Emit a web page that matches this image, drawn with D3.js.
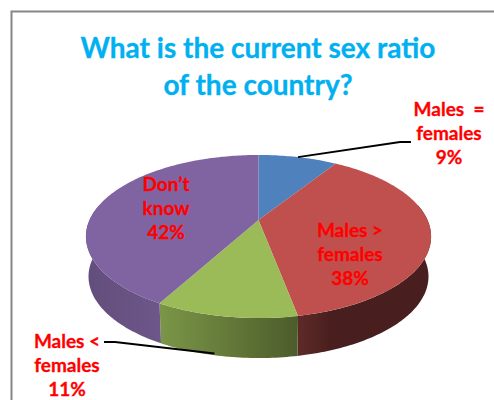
<!DOCTYPE html>
<html>
<head>
<meta charset="utf-8">
<title>Sex ratio survey</title>
<script src="https://cdn.jsdelivr.net/npm/d3@7/dist/d3.min.js"></script>
<style>
  html, body { margin: 0; padding: 0; background: #fff; }
  svg { display: block; }
  text { font-family: Lato, "Open Sans", sans-serif; font-weight: 700; white-space: pre; }
</style>
</head>
<body>
<svg id="chart" width="494" height="400"></svg>
<script>
// Survey answers, clockwise from twelve o'clock.
const categories = ["Males = females", "Males > females", "Males < females", "Don\u2019t know"];
const shares = [9, 38, 11, 42];
const topColors = ["#4f81bd", "#c0504d", "#9bbb59", "#8064a2"];
const wallLight = ["#3f6797", "#5e2a28", "#7b9647", "#6d5689"];
const wallDark = ["#2f4d72", "#481f1e", "#4c5c2b", "#624e7c"];
const titleLines = ["What is the current sex ratio", "of the country?"];
const labelLines = [
  ["Males  =", "females", "9%"],
  ["Males >", "females", "38%"],
  ["Males <", "females", "11%"],
  ["Don\u2019t", "know", "42%"]
];

const svg = d3.select("#chart");

// Frame, open past the right and bottom edges of the page.
svg.append("path")
  .attr("d", "M494,11.5H11.5V400")
  .attr("fill", "none").attr("stroke", "#868686").attr("stroke-width", 2);

svg.selectAll("text.title").data(titleLines).join("text")
  .attr("class", "title")
  .attr("x", 258)
  .attr("y", (d, i) => 58 + i * 37)
  .attr("text-anchor", "middle")
  .attr("font-size", 28)
  .attr("stroke", "#00b0f0").attr("stroke-width", 0.3)
  .attr("fill", "#00b0f0")
  .text(d => d);

// Tilted disc: a unit circle taken through a perspective divide, so the hub
// sits above the centre of the visible ellipse.
const tilt = 0.2025;
const depth = 40;
const xScale = d3.scaleLinear().domain([-1, 1]).range([258.5 - 169, 258.5 + 169]);
const yScale = d3.scaleLinear().domain([-1, 1]).range([220 - 78.2, 220 + 78.2]);

function rim(angle, r = 1) {
  const u = r * Math.sin(angle), v = -r * Math.cos(angle);
  const w = 1 - tilt * v;
  return [xScale(u / w), yScale(v / w)];
}

const arcs = d3.pie().sort(null).value(d => d)(shares);
const step = Math.PI / 180;
const angleRange = (a, b) => {
  const out = d3.range(a, b, step);
  out.push(b);
  return out;
};

// The wall faces the viewer only between the two widest points of the ellipse.
const wallStart = Math.PI / 2 - Math.asin(tilt);
const wallEnd = 3 * Math.PI / 2 + Math.asin(tilt);

const defs = svg.append("defs");
const line = d3.line();

arcs.forEach((arc, i) => {
  const a = Math.max(arc.startAngle, wallStart);
  const b = Math.min(arc.endAngle, wallEnd);
  if (a >= b) return;
  const upper = angleRange(a, b).map(t => rim(t));
  const lower = upper.slice().reverse().map(p => [258.5 + (p[0] - 258.5) * 0.985, p[1] + depth]);
  const id = "wall" + i;
  const grad = defs.append("linearGradient")
    .attr("id", id).attr("gradientUnits", "userSpaceOnUse")
    .attr("x1", d3.min(upper, p => p[0])).attr("x2", d3.max(upper, p => p[0]))
    .attr("y1", 0).attr("y2", 0);
  const leftLight = i !== 3;
  grad.append("stop").attr("offset", 0).attr("stop-color", leftLight ? wallLight[i] : wallDark[i]);
  if (i === 1) grad.append("stop").attr("offset", 0.25).attr("stop-color", wallDark[i]);
  grad.append("stop").attr("offset", 1).attr("stop-color", leftLight ? wallDark[i] : wallLight[i]);
  svg.append("path").attr("d", line(upper.concat(lower)) + "Z").attr("fill", `url(#${id})`);
});

arcs.forEach((arc, i) => {
  const pts = [[xScale(0), yScale(0)]].concat(angleRange(arc.startAngle, arc.endAngle).map(t => rim(t)));
  svg.append("path").attr("d", line(pts) + "Z").attr("fill", topColors[i]);
});

// Leader lines tie the two outer labels to their slices.
const blueMid = rim((arcs[0].startAngle + arcs[0].endAngle) / 2);
const greenRim = rim((arcs[2].startAngle + arcs[2].endAngle) / 2);
const leaders = [
  [blueMid, [400, 142], [411, 142]],
  [[greenRim[0] - 11, greenRim[1] + depth - 3], [115, 342], [104, 342]]
];
svg.selectAll("path.leader").data(leaders).join("path")
  .attr("class", "leader")
  .attr("d", line)
  .attr("fill", "none").attr("stroke", "#000").attr("stroke-width", 2);

const labelAnchors = [[449, 116], [350, 237], [67, 348], [166, 191]];
labelLines.forEach((lines, i) => {
  svg.append("g").attr("data-category", categories[i])
    .selectAll("text").data(lines).join("text")
    .attr("x", labelAnchors[i][0])
    .attr("y", (d, j) => labelAnchors[i][1] + j * 24)
    .attr("text-anchor", "middle")
    .attr("font-size", 19)
    .attr("stroke", "#ff0000").attr("stroke-width", 0.3)
    .attr("fill", "#ff0000")
    .text(d => d);
});
</script>
</body>
</html>
